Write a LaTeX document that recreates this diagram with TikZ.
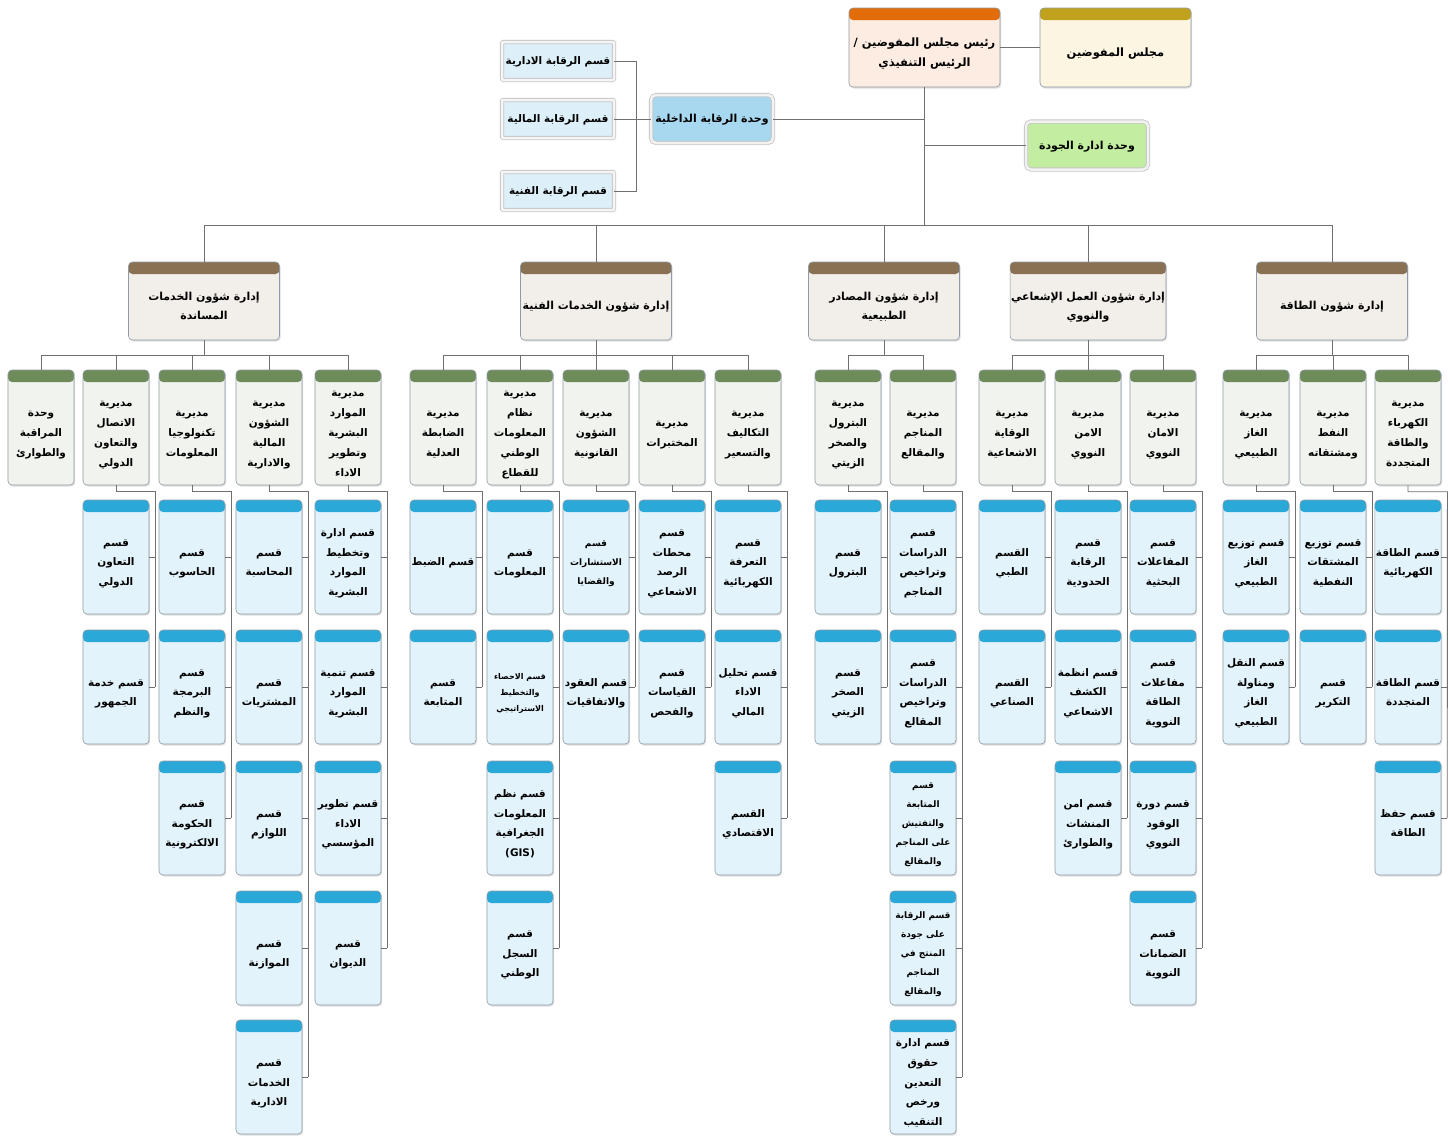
\documentclass[tikz,border=0pt]{standalone}
\usepackage{fontspec}
\usetikzlibrary{calc,shadows}
\newfontfamily\arabicfont[Script=Arabic]{DejaVu Sans}
\TeXXeTstate=1

\definecolor{orhd}{HTML}{E36C0A}
\definecolor{orbg}{HTML}{FDECE2}
\definecolor{gohd}{HTML}{C0A21E}
\definecolor{gobg}{HTML}{FBF5E1}
\definecolor{brhd}{HTML}{8B7153}
\definecolor{brbg}{HTML}{F2EEE9}
\definecolor{grhd}{HTML}{6E8B5A}
\definecolor{grbg}{HTML}{F1F3EF}
\definecolor{blhd}{HTML}{2AA9D9}
\definecolor{blbg}{HTML}{E3F3FB}
\definecolor{ctrlbg}{HTML}{A7D8F0}
\definecolor{qualbg}{HTML}{C3EDA0}
\definecolor{csbg}{HTML}{DDEFF8}
\definecolor{boxline}{HTML}{8E9AA4}
\definecolor{linecol}{HTML}{707070}

% centred rows; the body text sits a little below the header strip
\newcommand\rl[1]{\begin{tabular}{@{}c@{}}#1\end{tabular}}
\newcommand\tx[1]{\raisebox{-5bp}[\height][\depth]{\rl{#1}}}

\tikzset{
  hdbox/.style 2 args={rounded corners=4bp, draw=boxline, line width=0.6bp, fill=#2,
    inner xsep=1bp, inner ysep=2bp,
    drop shadow={opacity=.25, shadow xshift=1.2bp, shadow yshift=-1.5bp},
    path picture={\fill[#1] (path picture bounding box.north west) rectangle ([yshift=-12bp]path picture bounding box.north east);}},
  topbox/.style 2 args={hdbox={#1}{#2}, minimum width=151bp, minimum height=79bp,
    font=\arabicfont\bfseries\fontsize{11.5}{20}\selectfont},
  dept/.style={hdbox={brhd}{brbg}, minimum width=151bp, minimum height=78bp,
    font=\arabicfont\bfseries\fontsize{11}{20}\selectfont},
  dir/.style={hdbox={grhd}{grbg}, minimum width=66bp, minimum height=115bp,
    font=\arabicfont\bfseries\fontsize{10.5}{20}\selectfont},
  sec/.style={hdbox={blhd}{blbg}, minimum width=66bp, minimum height=114bp,
    font=\arabicfont\bfseries\fontsize{10.5}{20}\selectfont},
  tight/.style={font=\arabicfont\bfseries\fontsize{9}{19}\selectfont},
  tiny/.style={font=\arabicfont\bfseries\fontsize{8}{16}\selectfont},
  unit/.style={rounded corners=5bp, draw=gray!45, line width=0.8bp, double=gray!10,
    double distance=2.5bp, fill=#1, minimum width=122bp, minimum height=48bp,
    font=\arabicfont\bfseries\fontsize{11}{20}\selectfont},
  ctrlsec/.style={rounded corners=1bp, draw=gray!45, line width=0.8bp, double=gray!8,
    double distance=2.5bp, fill=csbg, minimum width=112bp, minimum height=38bp,
    font=\arabicfont\bfseries\fontsize{10.5}{20}\selectfont},
  link/.style={draw=linecol, line width=0.8bp},
}

\begin{document}
\begin{tikzpicture}[x=1bp,y=-1bp]
\useasboundingbox[fill=white] (0,0) rectangle (1448,1136);
\coordinate (tbus) at (0,225);
\coordinate (dbus) at (0,355);

% top of the chart
\node[topbox={orhd}{orbg}] (chair) at (924.5,47.5) {\tx{\beginR رئيس مجلس المفوضين /\endR\\\beginR الرئيس التنفيذي\endR}};
\node[topbox={gohd}{gobg}] (board) at (1115.5,47.5) {\tx{\beginR مجلس المفوضين\endR}};
\node[unit=ctrlbg] (ctrl) at (712,119) {\rl{\beginR وحدة الرقابة الداخلية\endR}};
\node[unit=qualbg] (qual) at (1087,145.5) {\rl{\beginR وحدة ادارة الجودة\endR}};
\node[ctrlsec] (cadm) at (558,61) {\rl{\beginR قسم الرقابة الادارية\endR}};
\node[ctrlsec] (cfin) at (558,119) {\rl{\beginR قسم الرقابة المالية\endR}};
\node[ctrlsec] (ctec) at (558,191) {\rl{\beginR قسم الرقابة الفنية\endR}};

\draw[link] (chair) -- (board);
\draw[link] (chair.south) -- (chair.south |- tbus);
\draw[link] (ctrl.east) -- (ctrl.east -| chair.south);
\draw[link] (qual.west) -- (qual.west -| chair.south);
\draw[link] (cadm.east) -| ($(ctec.east)+(22,0)$) -- (ctec.east);
\draw[link] (cfin.east) -- (ctrl.west);

% departments
\node[dept] (sup) at (204,301) {\tx{\beginR إدارة شؤون الخدمات\endR\\\beginR المساندة\endR}};
\node[dept] (tec) at (596,301) {\tx{\beginR إدارة شؤون الخدمات الفنية\endR}};
\node[dept] (nat) at (884,301) {\tx{\beginR إدارة شؤون المصادر\endR\\\beginR الطبيعية\endR}};
\node[dept] (rad) at (1088,301) {\tx{\beginR إدارة شؤون العمل الإشعاعي\endR\\\beginR والنووي\endR}};
\node[dept] (ene) at (1332,301) {\tx{\beginR إدارة شؤون الطاقة\endR}};

\draw[link] (sup.north |- tbus) -- (ene.north |- tbus);
\foreach \d in {sup,tec,nat,rad,ene}
  \draw[link] (\d.north) -- (\d.north |- tbus);

% directorates
\node[dir] (sup1) at (41,427.5) {\tx{وحدة\\المراقبة\\والطوارئ}};
\node[dir] (sup2) at (116,427.5) {\tx{مديرية\\الاتصال\\والتعاون\\الدولي}};
\node[dir] (sup3) at (192,427.5) {\tx{مديرية\\تكنولوجيا\\المعلومات}};
\node[dir] (sup4) at (269,427.5) {\tx{مديرية\\الشؤون\\المالية\\والادارية}};
\node[dir] (sup5) at (348,427.5) {\tx{مديرية\\الموارد\\البشرية\\وتطوير\\الاداء}};
\node[dir] (tec1) at (443,427.5) {\tx{مديرية\\الضابطة\\العدلية}};
\node[dir] (tec2) at (520,427.5) {\tx{مديرية\\نظام\\المعلومات\\الوطني\\للقطاع}};
\node[dir] (tec3) at (596,427.5) {\tx{مديرية\\الشؤون\\القانونية}};
\node[dir] (tec4) at (672,427.5) {\tx{مديرية\\المختبرات}};
\node[dir] (tec5) at (748,427.5) {\tx{مديرية\\التكاليف\\والتسعير}};
\node[dir] (nat1) at (848,427.5) {\tx{مديرية\\البترول\\والصخر\\الزيتي}};
\node[dir] (nat2) at (923,427.5) {\tx{مديرية\\المناجم\\والمقالع}};
\node[dir] (rad1) at (1012,427.5) {\tx{مديرية\\الوقاية\\الاشعاعية}};
\node[dir] (rad2) at (1088,427.5) {\tx{مديرية\\الامن\\النووي}};
\node[dir] (rad3) at (1163,427.5) {\tx{مديرية\\الامان\\النووي}};
\node[dir] (ene1) at (1256,427.5) {\tx{مديرية\\الغاز\\الطبيعي}};
\node[dir] (ene2) at (1333,427.5) {\tx{مديرية\\النفط\\ومشتقاته}};
\node[dir] (ene3) at (1408,427.5) {\tx{مديرية\\الكهرباء\\والطاقة\\المتجددة}};

\foreach \d/\a/\b in {sup/sup1/sup5,tec/tec1/tec5,nat/nat1/nat2,rad/rad1/rad3,ene/ene1/ene3}{
  \draw[link] (\d.south) -- (\d.south |- dbus);
  \draw[link] (\a.north |- dbus) -- (\b.north |- dbus);
}
\foreach \n in {sup1,sup2,sup3,sup4,sup5,tec1,tec2,tec3,tec4,tec5,nat1,nat2,rad1,rad2,rad3,ene1,ene2,ene3}
  \draw[link] (\n.north) -- (\n.north |- dbus);

% sections, support services
\node[sec] (sup2a) at (116,557) {\tx{قسم\\التعاون\\الدولي}};
\node[sec] (sup2b) at (116,687) {\tx{\beginR قسم خدمة\endR\\الجمهور}};
\node[sec] (sup3a) at (192,557) {\tx{قسم\\الحاسوب}};
\node[sec] (sup3b) at (192,687) {\tx{قسم\\البرمجة\\والنظم}};
\node[sec] (sup3c) at (192,818) {\tx{قسم\\الحكومة\\الالكترونية}};
\node[sec] (sup4a) at (269,557) {\tx{قسم\\المحاسبة}};
\node[sec] (sup4b) at (269,687) {\tx{قسم\\المشتريات}};
\node[sec] (sup4c) at (269,818) {\tx{قسم\\اللوازم}};
\node[sec] (sup4d) at (269,948) {\tx{قسم\\الموازنة}};
\node[sec] (sup4e) at (269,1077) {\tx{قسم\\الخدمات\\الادارية}};
\node[sec] (sup5a) at (348,557) {\tx{\beginR قسم ادارة\endR\\وتخطيط\\الموارد\\البشرية}};
\node[sec] (sup5b) at (348,687) {\tx{\beginR قسم تنمية\endR\\الموارد\\البشرية}};
\node[sec] (sup5c) at (348,818) {\tx{\beginR قسم تطوير\endR\\الاداء\\المؤسسي}};
\node[sec] (sup5d) at (348,948) {\tx{قسم\\الديوان}};

% sections, technical services
\node[sec] (tec1a) at (443,557) {\tx{\beginR قسم الضبط\endR}};
\node[sec] (tec1b) at (443,687) {\tx{قسم\\المتابعة}};
\node[sec] (tec2a) at (520,557) {\tx{قسم\\المعلومات}};
\node[sec,tiny] (tec2b) at (520,687) {\tx{\beginR قسم الاحصاء\endR\\والتخطيط\\الاستراتيجي}};
\node[sec] (tec2c) at (520,818) {\tx{\beginR قسم نظم\endR\\المعلومات\\الجغرافية\\(GIS)}};
\node[sec] (tec2d) at (520,948) {\tx{قسم\\السجل\\الوطني}};
\node[sec,tight] (tec3a) at (596,557) {\tx{قسم\\الاستشارات\\والقضايا}};
\node[sec] (tec3b) at (596,687) {\tx{\beginR قسم العقود\endR\\والاتفاقيات}};
\node[sec] (tec4a) at (672,557) {\tx{قسم\\محطات\\الرصد\\الاشعاعي}};
\node[sec] (tec4b) at (672,687) {\tx{قسم\\القياسات\\والفحص}};
\node[sec] (tec5a) at (748,557) {\tx{قسم\\التعرفة\\الكهربائية}};
\node[sec] (tec5b) at (748,687) {\tx{\beginR قسم تحليل\endR\\الاداء\\المالي}};
\node[sec] (tec5c) at (748,818) {\tx{القسم\\الاقتصادي}};

% sections, natural resources
\node[sec] (nat1a) at (848,557) {\tx{قسم\\البترول}};
\node[sec] (nat1b) at (848,687) {\tx{قسم\\الصخر\\الزيتي}};
\node[sec] (nat2a) at (923,557) {\tx{قسم\\الدراسات\\وتراخيص\\المناجم}};
\node[sec] (nat2b) at (923,687) {\tx{قسم\\الدراسات\\وتراخيص\\المقالع}};
\node[sec,tight] (nat2c) at (923,818) {\tx{قسم\\المتابعة\\والتفتيش\\\beginR على المناجم\endR\\والمقالع}};
\node[sec,tight] (nat2d) at (923,948) {\tx{\beginR قسم الرقابة\endR\\\beginR على جودة\endR\\\beginR المنتج في\endR\\المناجم\\والمقالع}};
\node[sec] (nat2e) at (923,1077) {\tx{\beginR قسم ادارة\endR\\حقوق\\التعدين\\ورخص\\التنقيب}};

% sections, radiation and nuclear
\node[sec] (rad1a) at (1012,557) {\tx{القسم\\الطبي}};
\node[sec] (rad1b) at (1012,687) {\tx{القسم\\الصناعي}};
\node[sec] (rad2a) at (1088,557) {\tx{قسم\\الرقابة\\الحدودية}};
\node[sec] (rad2b) at (1088,687) {\tx{\beginR قسم انظمة\endR\\الكشف\\الاشعاعي}};
\node[sec] (rad2c) at (1088,818) {\tx{\beginR قسم امن\endR\\المنشات\\والطوارئ}};
\node[sec] (rad3a) at (1163,557) {\tx{قسم\\المفاعلات\\البحثية}};
\node[sec] (rad3b) at (1163,687) {\tx{قسم\\مفاعلات\\الطاقة\\النووية}};
\node[sec] (rad3c) at (1163,818) {\tx{\beginR قسم دورة\endR\\الوقود\\النووي}};
\node[sec] (rad3d) at (1163,948) {\tx{قسم\\الضمانات\\النووية}};

% sections, energy
\node[sec] (ene1a) at (1256,557) {\tx{\beginR قسم توزيع\endR\\الغاز\\الطبيعي}};
\node[sec] (ene1b) at (1256,687) {\tx{\beginR قسم النقل\endR\\ومناولة\\الغاز\\الطبيعي}};
\node[sec] (ene2a) at (1333,557) {\tx{\beginR قسم توزيع\endR\\المشتقات\\النفطية}};
\node[sec] (ene2b) at (1333,687) {\tx{قسم\\التكرير}};
\node[sec] (ene3a) at (1408,557) {\tx{\beginR قسم الطاقة\endR\\الكهربائية}};
\node[sec] (ene3b) at (1408,687) {\tx{\beginR قسم الطاقة\endR\\المتجددة}};
\node[sec] (ene3c) at (1408,818) {\tx{\beginR قسم حفظ\endR\\الطاقة}};

% spines from each directorate to its sections
\foreach \d/\a/\z in {sup2/sup2a/sup2b,sup3/sup3a/sup3c,sup4/sup4a/sup4e,sup5/sup5a/sup5d,
    tec1/tec1a/tec1b,tec2/tec2a/tec2d,tec3/tec3a/tec3b,tec4/tec4a/tec4b,tec5/tec5a/tec5c,
    nat1/nat1a/nat1b,nat2/nat2a/nat2e,rad1/rad1a/rad1b,rad2/rad2a/rad2c,rad3/rad3a/rad3d,
    ene1/ene1a/ene1b,ene2/ene2a/ene2b,ene3/ene3a/ene3c}
  \draw[link] (\d.south) |- ($(\a.north east)+(6,-8)$) -- ($(\z.east)+(6,0)$);
\foreach \s in {sup2a,sup2b,sup3a,sup3b,sup3c,sup4a,sup4b,sup4c,sup4d,sup4e,sup5a,sup5b,sup5c,sup5d,
    tec1a,tec1b,tec2a,tec2b,tec2c,tec2d,tec3a,tec3b,tec4a,tec4b,tec5a,tec5b,tec5c,
    nat1a,nat1b,nat2a,nat2b,nat2c,nat2d,nat2e,rad1a,rad1b,rad2a,rad2b,rad2c,
    rad3a,rad3b,rad3c,rad3d,ene1a,ene1b,ene2a,ene2b,ene3a,ene3b,ene3c}
  \draw[link] (\s.east) -- ++(6,0);
\end{tikzpicture}
\end{document}
